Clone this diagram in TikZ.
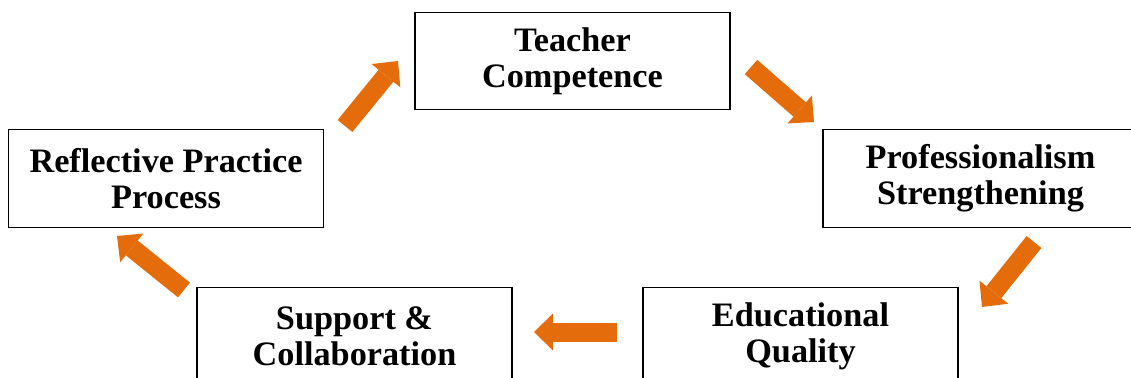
\documentclass[tikz,border=0pt]{standalone}
\usepackage{fontspec}
\setmainfont{Liberation Serif}
\usetikzlibrary{arrows.meta}
\definecolor{cycleorange}{RGB}{228,108,10}
\tikzset{%
  % Specifications for style of nodes:
           stage/.style = {rectangle, draw=black, line width=0.8pt,
                           minimum width=6.3cm, minimum height=1.95cm,
                           align=center, inner sep=0pt,
                           font=\bfseries\fontsize{19.5}{20.5}\selectfont},
  % the thick orange arrows between the stages
            flow/.style = {draw=cycleorange, line width=0.38cm,
                           -{Triangle[width=0.74cm, length=0.38cm, line width=0pt]}},
}

\begin{document}
\begin{tikzpicture}[x=0.02cm, y=-0.02cm]
  \useasboundingbox (0,0) rectangle (1131,378);
  \clip (0,0) rectangle (1131,378);
  % Specification of nodes (position, etc.)
  \node (teacher)  [stage] at (572.5,61)  {Teacher\\Competence};
  \node (profess)  [stage] at (980.5,178.5) {Professionalism\\Strengthening};
  \node (quality)  [stage] at (800.5,336) {Educational\\Quality};
  \node (support)  [stage] at (354.5,336) {Support \&\\Collaboration};
  \node (reflect)  [stage] at (166,178.5) {Reflective Practice\\Process};
  % ends of the arrows, they float between the boxes
  \coordinate (r2t-from) at (345,126);  \coordinate (r2t-to) at (398,61);
  \coordinate (t2p-from) at (751,67);   \coordinate (t2p-to) at (814,122);
  \coordinate (p2q-from) at (1034,242); \coordinate (p2q-to) at (982,307);
  \coordinate (q2s-from) at (617,332);  \coordinate (q2s-to) at (534,332);
  \coordinate (s2r-from) at (184,290);  \coordinate (s2r-to) at (117,236);
  % Specification of arrows between nodes specified above
  \draw[flow] (r2t-from) -- (r2t-to);
  \draw[flow] (t2p-from) -- (t2p-to);
  \draw[flow] (p2q-from) -- (p2q-to);
  \draw[flow] (q2s-from) -- (q2s-to);
  \draw[flow] (s2r-from) -- (s2r-to);
\end{tikzpicture}
\end{document}
